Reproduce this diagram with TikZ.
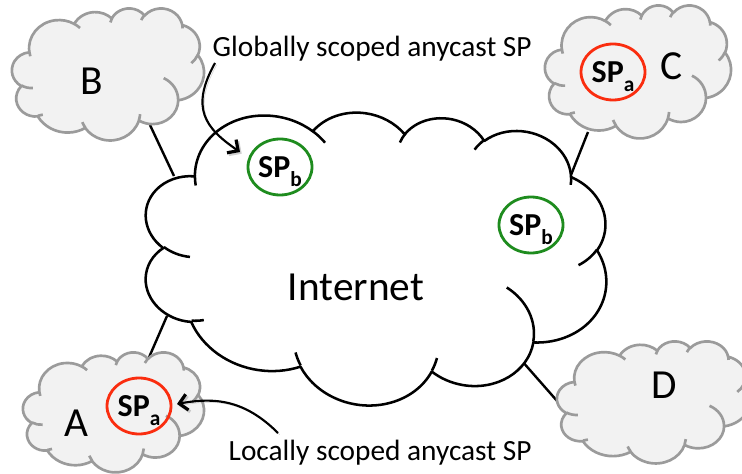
\documentclass[tikz,border=0pt]{standalone}
\usepackage{fontspec}
\setmainfont{Carlito}
\usetikzlibrary{shapes.geometric,arrows.meta}
\definecolor{spgreen}{RGB}{30,140,30}
\definecolor{spred}{RGB}{250,45,15}
\definecolor{cloudfill}{RGB}{242,242,242}
\definecolor{cloudline}{RGB}{155,155,155}

% elliptical arc whose angles are measured as directions from the centre
\newcommand\varc[4]{arc[start angle={vang(#1,#2,#3)}, delta angle={vdel(#1,#2,#3,#4)}, x radius=#1, y radius=#2]}

% cloud outline drawn in a 43.2 x 43.2 box:
% #1,#2 centre, #3 width, #4 height, #5 clockwise turn (degrees), #6 style
\newcommand\pcloud[6]{%
  \begin{scope}[shift={(#1,#2)}, rotate=-#5, shift={(-#3/2,-#4/2)}, xscale=#3/43.2, yscale=#4/43.2]
    \path[#6] (3.9,14.37)
      \varc{6.753}{9.19}{-190.4875}{123.7805}
      \varc{5.333}{7.267}{-144.1024}{89.9452}
      \varc{4.365}{5.945}{-145.8079}{99.7230}
      \varc{4.857}{6.595}{-130.9861}{117.2417}
      \varc{5.333}{7.273}{-78.7089}{109.0269}
      \varc{6.775}{9.22}{-46.2673}{130.2690}
      \varc{5.785}{7.867}{0.6250}{114.0333}
      \varc{6.752}{9.215}{22.4516}{115.1726}
      \varc{7.72}{10.543}{66.2426}{75.7110}
      \varc{4.36}{5.918}{-274.9421}{146.7356}
      \varc{4.345}{5.945}{-246.8285}{152.5189}
      -- cycle;
    \path[#6, fill=none]
      (4.693,26.177) \varc{4.345}{5.945}{86.7420}{26.4295}
      (6.928,34.899) \varc{4.36}{5.918}{73.6105}{11.4475}
      (16.478,39.09) \varc{6.752}{9.215}{137.6242}{14.0811}
      (28.827,34.751) \varc{6.752}{9.215}{6.4533}{15.9984}
      (34.129,22.954) \varc{5.785}{7.867}{-70.2924}{70.9174}
      (41.798,15.354) \varc{5.333}{7.273}{30.3180}{27.7515}
      (38.324,5.426) \varc{4.857}{6.595}{-13.7443}{14.8589}
      (29.078,3.952) \varc{4.857}{6.595}{-149.1815}{18.1954}
      (22.141,4.72) \varc{4.365}{5.945}{-163.4943}{17.6864}
      (14.0,5.192) \varc{6.753}{9.19}{-66.7070}{12.3194}
      (4.127,15.789) \varc{6.753}{9.19}{157.6544}{11.8582};
  \end{scope}}

\newcommand\spsub[1]{\raisebox{-6.5pt}{\fontsize{16}{16}\selectfont #1}}

\begin{document}
\begin{tikzpicture}[x=0.75pt, y=-0.75pt,
  declare function={
    vang(\w,\h,\a) = atan2(\w*sin(\a), \h*cos(\a));
    vdel(\w,\h,\a,\s) = mod(vang(\w,\h,\a+\s) - vang(\w,\h,\a) + 720, 360);
  },
  net/.style={draw=black, fill=white, line width=1.9pt, line join=round},
  site/.style={draw=cloudline, fill=cloudfill, line width=2pt, line join=round},
  link/.style={draw=black, line width=1.8pt},
  sp/.style={ellipse, line width=2.1pt, minimum width=48pt, minimum height=42pt,
    inner sep=0pt, text depth=0pt, font=\fontsize{24}{28}\selectfont\bfseries},
  spglobal/.style={sp, draw=spgreen},
  splocal/.style={sp, draw=spred},
  bigtext/.style={anchor=base, font=\fontsize{31}{37}\selectfont},
  note/.style={anchor=base west, font=\fontsize{22}{26}\selectfont},
  pointer/.style={draw=black, line width=1.6pt,
    -{Straight Barb[length=6pt, width=12pt, line width=2.4pt]},
    preaction={draw=black!40, opacity=.45, transform canvas={shift={(1.3pt,-1.3pt)}}}}
]
\clip (0,0) rectangle (742,474);

% attachment points between the sites and the Internet
\coordinate (B-port) at (150,125);
\coordinate (I-west) at (174,176);
\coordinate (A-port) at (147,362);
\coordinate (I-south) at (167,316);
\coordinate (C-port) at (588,132);
\coordinate (I-east) at (569,180);
\coordinate (D-port) at (558,402);
\coordinate (I-southeast) at (522,361);

\draw[link] (B-port) -- (I-west);
\draw[link] (A-port) -- (I-south);
\draw[link] (C-port) -- (I-east);
\draw[link] (D-port) -- (I-southeast);

% clouds
\pcloud{375}{256}{466}{297}{9.5}{net}
\pcloud{108}{74}{192}{132}{0}{site}
\pcloud{638}{71.5}{186}{133}{0}{site}
\pcloud{113.5}{412}{181}{120}{0}{site}
\pcloud{653.5}{402}{193}{122}{0}{site}

% labels
\node[bigtext] (internet) at (356,300) {Internet};
\node[bigtext] (lblB) at (92,95) {B};
\node[bigtext] (lblC) at (672,80) {C};
\node[bigtext] (lblA) at (76,436) {A};
\node[bigtext] (lblD) at (664,398) {D};

% anycast service points
\node[spglobal] (spb1) at (280,167) {SP\spsub{b}};
\node[spglobal] (spb2) at (531,225) {SP\spsub{b}};
\node[splocal] (spaC) at (613,72) {SP\spsub{a}};
\node[splocal] (spaA) at (139,406) {SP\spsub{a}};

% annotations
\node[note] (glob) at (208,57) {Globally scoped anycast SP};
\node[note] (loc) at (224,460) {Locally scoped anycast SP};

\coordinate (glob-tail) at (215,63);
\coordinate (glob-head) at (240,152);
\coordinate (loc-tail) at (278,433);
\coordinate (loc-head) at (177,404);

\draw[pointer] (glob-tail) .. controls (190,108) and (205,128) .. (glob-head);
\draw[pointer] (loc-tail) .. controls (245,400) and (215,397) .. (loc-head);
\end{tikzpicture}
\end{document}
